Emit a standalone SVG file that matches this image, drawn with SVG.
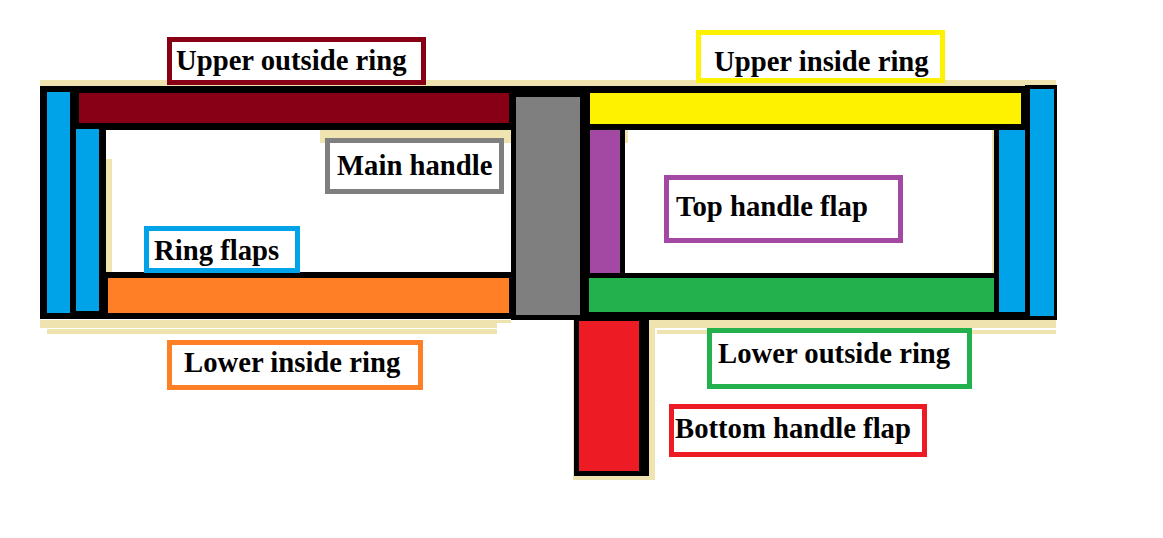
<svg xmlns="http://www.w3.org/2000/svg" width="1163" height="538" viewBox="0 0 1163 538">
<style>
.b{fill:#000}.t{fill:#efe4b0}
.l{fill:#fff;stroke-width:5}
text{font-family:"Liberation Serif","Times New Roman",serif;font-weight:bold;font-size:28.7px;fill:#000}
</style>
<rect width="1163" height="538" fill="#fff"/>
<g id="paper-edge">
<rect class="t" x="40" y="80" width="1016" height="6"/>
<rect class="t" x="40" y="320" width="457" height="8"/>
<rect class="t" x="497" y="320" width="14" height="3"/>
<rect class="t" x="47" y="329" width="450" height="5"/>
<rect class="t" x="650" y="320" width="406" height="8"/>
<rect class="t" x="657" y="330" width="399" height="4"/>
<rect class="t" x="649" y="320" width="6" height="160"/>
<rect class="t" x="573" y="320" width="1" height="160"/>
<rect class="t" x="573" y="476" width="82" height="4"/>
</g>
<g id="frame">
<rect class="b" x="40" y="86" width="471" height="233"/>
<rect class="b" x="511" y="86" width="514" height="234"/>
<rect class="b" x="1025" y="85" width="32" height="235"/>
<rect x="106" y="130" width="405" height="142" fill="#fff"/>
<rect class="t" x="106" y="159" width="6" height="113"/>
<rect class="t" x="320" y="130" width="191" height="13"/>
<rect x="625" y="130" width="369" height="143" fill="#fff"/>
<rect class="t" x="625" y="130" width="3" height="13"/>
<rect class="t" x="992" y="130" width="2" height="143"/>
<rect class="b" x="574" y="315" width="75" height="161"/>
</g>
<g id="ring-flaps">
<rect x="47" y="92" width="23" height="221" fill="#00a2e8"/>
<rect x="76" y="129" width="23" height="182" fill="#00a2e8"/>
<rect x="999" y="130" width="26" height="182" fill="#00a2e8"/>
<rect x="1030" y="89" width="24" height="227" fill="#00a2e8"/>
</g>
<rect id="upper-outside-ring" x="79" y="93" width="430" height="30" fill="#880015"/>
<rect id="lower-inside-ring" x="108" y="278" width="401" height="35" fill="#ff7f27"/>
<rect id="main-handle" x="516" y="97" width="64" height="218" fill="#7f7f7f"/>
<rect id="upper-inside-ring" x="590" y="93" width="431" height="31" fill="#fff200"/>
<rect id="top-handle-flap" x="590" y="130" width="30" height="143" fill="#a349a4"/>
<rect id="lower-outside-ring" x="589" y="278" width="405" height="34" fill="#22b14c"/>
<rect id="bottom-handle-flap" x="579" y="321" width="60" height="150" fill="#ed1c24"/>
<g id="label-upper-outside"><rect class="l" x="169.500" y="39.500" width="254" height="43" stroke="#880015"/><text x="176" y="70">Upper outside ring</text></g>
<g id="label-upper-inside"><rect class="l" x="698.500" y="32.500" width="244" height="48" stroke="#fff200"/><text x="714" y="71">Upper inside ring</text></g>
<g id="label-main-handle"><rect class="l" x="327.500" y="140.500" width="174" height="51" stroke="#7f7f7f"/><text x="337" y="175">Main handle</text></g>
<g id="label-ring-flaps"><rect class="l" x="146.500" y="228.500" width="151" height="42" stroke="#00a2e8"/><text x="154" y="260">Ring flaps</text></g>
<g id="label-top-handle"><rect class="l" x="666.500" y="177.500" width="234" height="63" stroke="#a349a4"/><text x="676" y="216">Top handle flap</text></g>
<g id="label-lower-inside"><rect class="l" x="169.500" y="342.500" width="251" height="45" stroke="#ff7f27"/><text x="184" y="372">Lower inside ring</text></g>
<g id="label-lower-outside"><rect class="l" x="709.500" y="330.500" width="260" height="56" stroke="#22b14c"/><text x="718" y="363">Lower outside ring</text></g>
<g id="label-bottom-handle"><rect class="l" x="671.500" y="406.500" width="253" height="48" stroke="#ed1c24"/><text x="675" y="438">Bottom handle flap</text></g>
</svg>
